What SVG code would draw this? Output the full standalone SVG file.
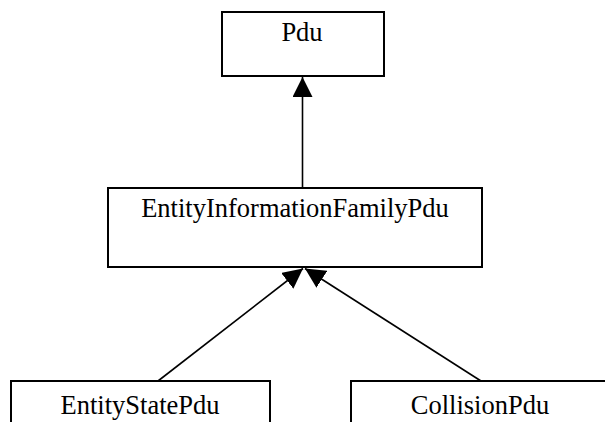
<svg xmlns="http://www.w3.org/2000/svg" width="605" height="422" viewBox="0 0 605 422">
<style>
.box{fill:#fff;stroke:#000;stroke-width:2}
.lbl{font-family:"Liberation Serif","Times New Roman",serif;font-size:26.5px;fill:#000;text-anchor:middle}
.edge{stroke:#000;stroke-width:1.6;fill:none;marker-end:url(#tri)}
</style>
<defs>
<marker id="tri" markerUnits="userSpaceOnUse" markerWidth="20" markerHeight="20" refX="20" refY="10" orient="auto" viewBox="0 0 20 20">
<path d="M0,0 L20,10 L0,20 z" fill="#000"/>
</marker>
</defs>
<rect width="605" height="422" fill="#fff"/>
<g id="connectors">
<line class="edge" x1="302.5" y1="188" x2="302.5" y2="77"/>
<line class="edge" x1="158" y1="381" x2="303" y2="268.5"/>
<line class="edge" x1="481" y1="381" x2="305" y2="268.5"/>
</g>
<g id="node-pdu">
<rect class="box" x="222" y="12" width="162" height="64"/>
<text class="lbl" x="302" y="41">Pdu</text>
</g>
<g id="node-eif">
<rect class="box" x="108" y="188" width="374" height="79"/>
<text class="lbl" x="295" y="217">EntityInformationFamilyPdu</text>
</g>
<g id="node-esp">
<rect class="box" x="11" y="381" width="259" height="60"/>
<text class="lbl" x="140" y="414">EntityStatePdu</text>
</g>
<g id="node-cp">
<rect class="box" x="351" y="381" width="258" height="60"/>
<text class="lbl" x="480" y="414">CollisionPdu</text>
</g>
</svg>
